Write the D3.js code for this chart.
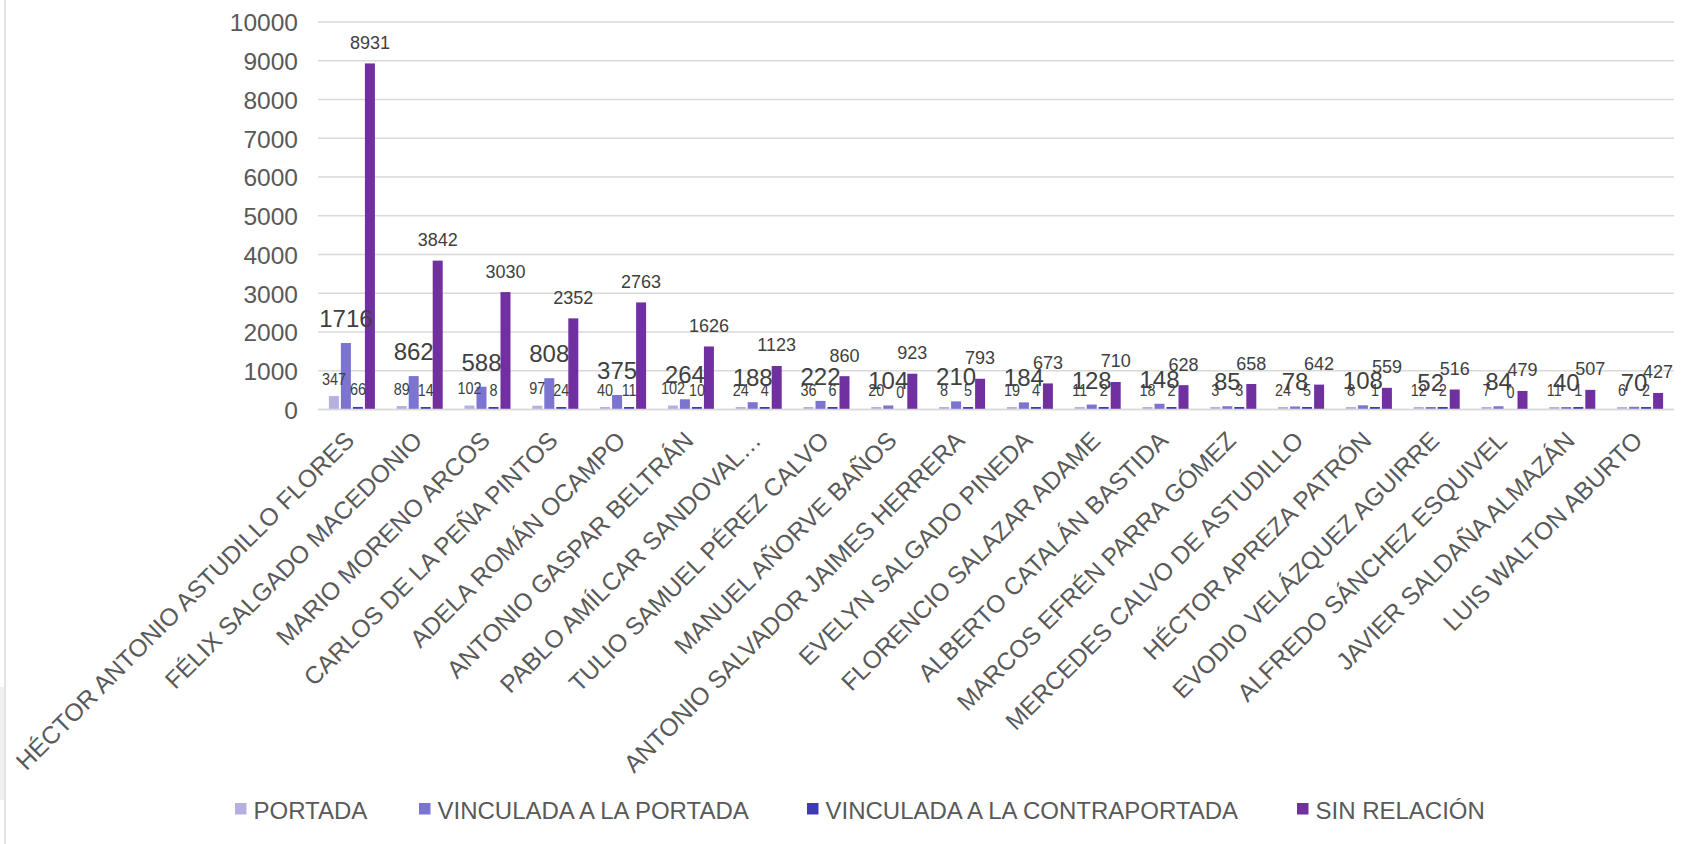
<!DOCTYPE html>
<html>
<head>
<meta charset="utf-8">
<script src="https://cdn.jsdelivr.net/npm/d3@7"></script>
<style>
  body { margin: 0; background: #fff; }
  text { font-family: "Liberation Sans", Arial, sans-serif; }
</style>
</head>
<body>
<svg id="chart"></svg>
<script>
const candidatos = [
  "HÉCTOR ANTONIO ASTUDILLO FLORES", "FÉLIX SALGADO MACEDONIO", "MARIO MORENO ARCOS",
  "CARLOS DE LA PEÑA PINTOS", "ADELA ROMÁN OCAMPO", "ANTONIO GASPAR BELTRÁN",
  "PABLO AMÍLCAR SANDOVAL…", "TULIO SAMUEL PÉREZ CALVO", "MANUEL AÑORVE BAÑOS",
  "ANTONIO SALVADOR JAIMES HERRERA", "EVELYN SALGADO PINEDA", "FLORENCIO SALAZAR ADAME",
  "ALBERTO CATALÁN BASTIDA", "MARCOS EFRÉN PARRA GÓMEZ", "MERCEDES CALVO DE ASTUDILLO",
  "HÉCTOR APREZA PATRÓN", "EVODIO VELÁZQUEZ AGUIRRE", "ALFREDO SÁNCHEZ ESQUIVEL",
  "JAVIER SALDAÑA ALMAZÁN", "LUIS WALTON ABURTO"
];
const portada           = [347, 89, 102, 97, 40, 102, 24, 36, 20, 8, 19, 11, 18, 3, 24, 8, 12, 7, 11, 6];
const vinculadaPortada  = [1716, 862, 588, 808, 375, 264, 188, 222, 104, 210, 184, 128, 148, 85, 78, 108, 52, 84, 40, 70];
const vinculadaContra   = [66, 14, 8, 24, 11, 10, 4, 6, 0, 5, 4, 2, 2, 3, 5, 1, 2, 0, 1, 2];
const sinRelacion       = [8931, 3842, 3030, 2352, 2763, 1626, 1123, 860, 923, 793, 673, 710, 628, 658, 642, 559, 516, 479, 507, 427];
const series = ["PORTADA", "VINCULADA A LA PORTADA", "VINCULADA A LA CONTRAPORTADA", "SIN RELACIÓN"];
const yTicks = [0, 1000, 2000, 3000, 4000, 5000, 6000, 7000, 8000, 9000, 10000];

const valores = [portada, vinculadaPortada, vinculadaContra, sinRelacion];
const data = candidatos.map((c, i) => ({
  nombre: c,
  vals: series.map((s, j) => ({ serie: s, valor: valores[j][i] }))
}));

const width = 1692, height = 844;
const plot = { left: 318, right: 1674, top: 22, bottom: 409.5 };

const svg = d3.select("#chart").attr("width", width).attr("height", height);

// page edge
svg.append("rect").attr("x", 0).attr("y", 687).attr("width", 4).attr("height", 113).attr("fill", "#f0f0f0");
svg.append("line").attr("x1", 5).attr("x2", 5).attr("y1", 0).attr("y2", height)
   .attr("stroke", "#e3e3e3").attr("stroke-width", 2);

const x0 = d3.scaleBand()
             .domain(candidatos)
             .range([plot.left, plot.right])
             .paddingInner(0.3214)
             .paddingOuter(0.1607);

const x1 = d3.scaleBand()
             .domain(series)
             .range([0, x0.bandwidth()])
             .paddingInner(0.167);

const y = d3.scaleLinear()
            .domain([0, 10000])
            .range([plot.bottom, plot.top]);

const color = d3.scaleOrdinal()
                .domain(series)
                .range(["#b4b1e0", "#7b74d0", "#3f3bb7", "#7030a0"]);

// gridlines
svg.append("g")
   .selectAll("line")
   .data(yTicks)
   .enter()
   .append("line")
   .attr("x1", plot.left)
   .attr("x2", plot.right)
   .attr("y1", d => y(d))
   .attr("y2", d => y(d))
   .attr("stroke", "#d9d9d9")
   .attr("stroke-width", 1.7);

// y axis labels
const yAxis = svg.append("g")
   .attr("transform", `translate(${plot.left - 20}, 0)`)
   .call(d3.axisLeft(y).tickValues(yTicks).tickSize(0).tickPadding(0).tickFormat(d3.format("d")));
yAxis.select(".domain").remove();
yAxis.selectAll("text")
     .attr("fill", "#595959")
     .style("font-size", "24.5px")
     .attr("dy", "0.36em");

// bars
const groups = svg.selectAll(".grupo")
   .data(data)
   .enter()
   .append("g")
   .attr("class", "grupo")
   .attr("transform", d => `translate(${x0(d.nombre)},0)`);

groups.selectAll("rect")
   .data(d => d.vals)
   .enter()
   .append("rect")
   .attr("x", d => x1(d.serie))
   .attr("width", x1.bandwidth())
   .attr("y", d => d.valor > 0 ? Math.min(y(d.valor), plot.bottom - 2.5) : plot.bottom)
   .attr("height", d => d.valor > 0 ? Math.max(plot.bottom - y(d.valor), 2.5) : 0)
   .attr("fill", d => color(d.serie));

// baseline
svg.append("line")
   .attr("x1", plot.left).attr("x2", plot.right)
   .attr("y1", y(0)).attr("y2", y(0))
   .attr("stroke", "#d9d9d9").attr("stroke-width", 1.7);

// data labels
const labelStyle = {
  "PORTADA": { size: 16, gap: 11.5, squeeze: 0.9 },
  "VINCULADA A LA PORTADA": { size: 24, gap: 16, squeeze: 1 },
  "VINCULADA A LA CONTRAPORTADA": { size: 16, gap: 11.5, squeeze: 0.9 },
  "SIN RELACIÓN": { size: 18, gap: 14.5, squeeze: 1 }
};

series.forEach(s => {
  svg.append("g")
     .selectAll("text")
     .data(data)
     .enter()
     .append("text")
     .attr("x", d => x0(d.nombre) + x1(s) + x1.bandwidth() / 2)
     .attr("y", d => {
       const v = d.vals.find(e => e.serie === s).valor;
       const top = v > 0 ? Math.min(y(v), plot.bottom - 2.5) : plot.bottom;
       return top - labelStyle[s].gap;
     })
     .attr("text-anchor", "middle")
     .attr("fill", "#404040")
     .style("font-size", labelStyle[s].size + "px")
     .text(d => d.vals.find(e => e.serie === s).valor)
     .each(function() {
       const f = labelStyle[s].squeeze;
       if (f !== 1) {
         d3.select(this)
           .attr("textLength", this.getComputedTextLength() * f)
           .attr("lengthAdjust", "spacingAndGlyphs");
       }
     });
});

// category labels
svg.append("g")
   .selectAll("text")
   .data(candidatos)
   .enter()
   .append("text")
   .attr("transform", d => `translate(${x0(d) + x0.bandwidth() / 2 + 4}, 442) rotate(-45)`)
   .attr("text-anchor", "end")
   .attr("fill", "#595959")
   .style("font-size", "24.5px")
   .text(d => d);

// legend
const legendX = [235, 419, 807, 1297];
const legend = svg.append("g").attr("transform", "translate(0, 803)");
series.forEach((s, i) => {
  legend.append("rect")
        .attr("x", legendX[i])
        .attr("y", 0)
        .attr("width", 11.5)
        .attr("height", 11.5)
        .attr("fill", color(s));
  legend.append("text")
        .attr("x", legendX[i] + 18.5)
        .attr("y", 16)
        .attr("fill", "#595959")
        .style("font-size", "24px")
        .text(s);
});
</script>
</body>
</html>
